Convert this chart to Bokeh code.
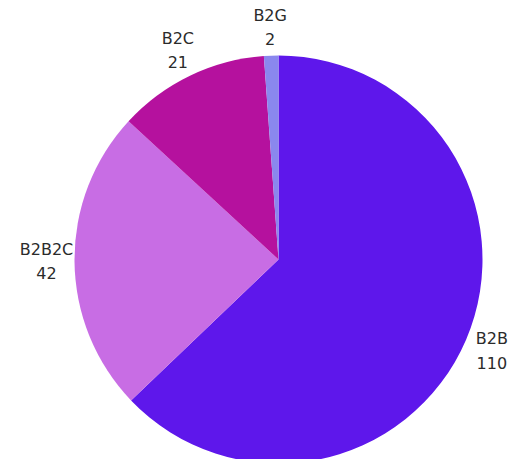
import math
from bokeh.plotting import figure
from bokeh.models import ColumnDataSource, Range1d
from bokeh.core.properties import value
from bokeh.embed import file_html
from bokeh.resources import INLINE

categories = ["B2B", "B2B2C", "B2C", "B2G"]
counts = [110, 42, 21, 2]
colors = ["#5E17EB", "#C86DE4", "#B5119E", "#8A87EE"]

W, H = 511, 459
cx, cy = 278, H - 259
R = 204
LR = 232

total = float(sum(counts))
starts, ends, lx, ly, labels = [], [], [], [], []
a = math.pi / 2
for c, v in zip(categories, counts):
    sweep = v / total * 2 * math.pi
    e = a - sweep
    starts.append(e)
    ends.append(a)
    mid = (a + e) / 2
    lx.append(cx + LR * math.cos(mid))
    ly.append(cy + LR * math.sin(mid))
    labels.append(f"{c}\n{v}")
    a = e

src = ColumnDataSource(dict(start=starts, end=ends, color=colors,
                            lx=lx, ly=ly, label=labels))

p = figure(width=W, height=H, output_backend="svg", toolbar_location=None,
           x_range=Range1d(0, W), y_range=Range1d(0, H), min_border=0)
p.axis.visible = False
p.grid.visible = False
p.outline_line_color = None
p.background_fill_color = "white"

p.wedge(x=cx, y=cy, radius=R, start_angle="start", end_angle="end",
        fill_color="color", line_color=None, source=src)
p.text(x="lx", y="ly", text="label", source=src, text_align="center",
       text_baseline="middle", text_font=value("DejaVu Sans"),
       text_font_size="16px", text_color="#2b2b2b", text_line_height=1.3)

open("out.html", "w").write(file_html(p, INLINE))
